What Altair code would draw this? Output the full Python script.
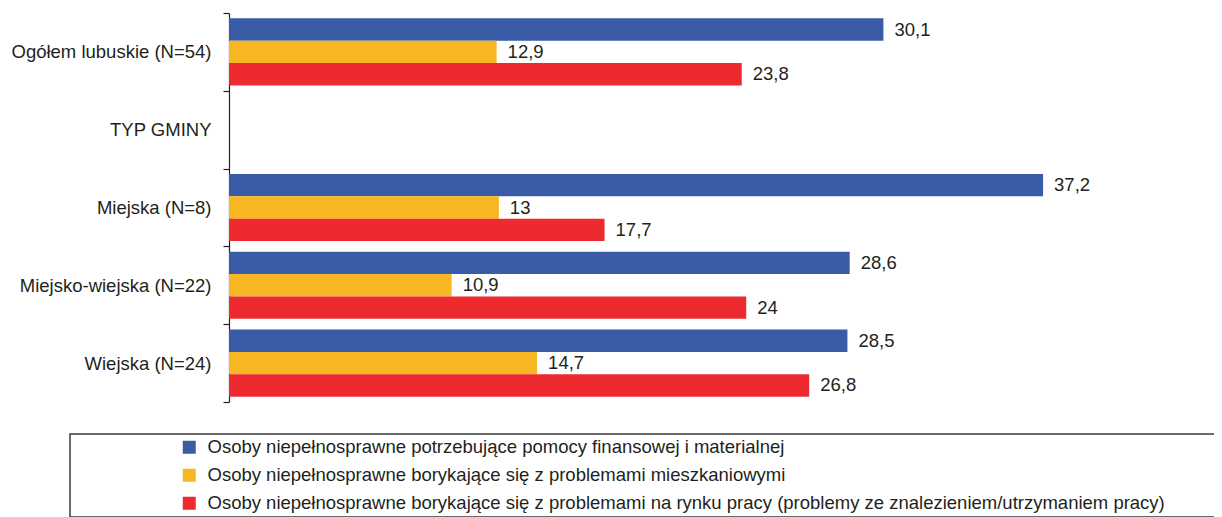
import altair as alt
import pandas as pd

# Categories on the vertical axis (TYP GMINY is a section header with no data)
categories = [
    "Ogółem lubuskie (N=54)",
    "TYP GMINY",
    "Miejska (N=8)",
    "Miejsko-wiejska (N=22)",
    "Wiejska (N=24)",
]
data_categories = [
    "Ogółem lubuskie (N=54)",
    "Miejska (N=8)",
    "Miejsko-wiejska (N=22)",
    "Wiejska (N=24)",
]

series = [
    "Osoby niepełnosprawne potrzebujące pomocy finansowej i materialnej",
    "Osoby niepełnosprawne borykające się z problemami mieszkaniowymi",
    "Osoby niepełnosprawne borykające się z problemami na rynku pracy (problemy ze znalezieniem/utrzymaniem pracy)",
]
colors = ["#3A5BA6", "#F8B622", "#EC2A2F"]

finansowa = [30.1, 37.2, 28.6, 28.5]
mieszkaniowe = [12.9, 13.0, 10.9, 14.7]
rynek_pracy = [23.8, 17.7, 24.0, 26.8]

rows = []
for s, vals in zip(series, [finansowa, mieszkaniowe, rynek_pracy]):
    for c, v in zip(data_categories, vals):
        rows.append({
            "kategoria": c,
            "seria": s,
            "wartosc": v,
            "etykieta": f"{v:g}".replace(".", ","),
        })
df = pd.DataFrame(rows)

FONT = "Liberation Sans"
TXT = "#231F20"
FS = 18.5

y_scale = alt.Scale(domain=categories, paddingInner=0, paddingOuter=0)
y_enc = alt.Y(
    "kategoria:N",
    scale=y_scale,
    axis=alt.Axis(
        title=None,
        tickBand="extent",
        tickSize=6,
        tickWidth=1.2,
        tickColor=TXT,
        domainColor=TXT,
        domainWidth=1.2,
        labelPadding=12,
        labelFont=FONT,
        labelFontSize=FS,
        labelColor=TXT,
        labelLimit=400,
        grid=False,
    ),
)
yoff_enc = alt.YOffset("seria:N", scale=alt.Scale(domain=series, paddingInner=0, paddingOuter=0.24))
x_enc = alt.X(
    "wartosc:Q",
    scale=alt.Scale(domain=[1, 44], clamp=True, nice=False, zero=False),
    axis=None,
)

# trailing non-breaking spaces widen the legend frame so its right edge runs off the page
pad = "\u00a0" * 9 + "\u200b"

bars = alt.Chart(df).mark_bar(opacity=1).encode(
    y=y_enc,
    yOffset=yoff_enc,
    x=x_enc,
    color=alt.Color(
        "seria:N",
        scale=alt.Scale(domain=series, range=colors),
        legend=alt.Legend(
            title=None,
            orient="none",
            legendX=-159,
            legendY=421,
            direction="vertical",
            strokeColor="#3a3a3a",
            padding=4,
            symbolOffset=106,
            symbolType="square",
            symbolSize=169,
            symbolStrokeWidth=0,
            symbolOpacity=1,
            labelFont=FONT,
            labelFontSize=FS,
            labelColor=TXT,
            labelOffset=9,
            labelLimit=1400,
            rowPadding=9,
            labelExpr="datum.label + '" + pad + "'",
        ),
    ),
)

labels = alt.Chart(df).mark_text(
    align="left", baseline="middle", dx=11, font=FONT, fontSize=FS, color=TXT
).encode(
    y=alt.Y("kategoria:N", scale=y_scale),
    yOffset=yoff_enc,
    x=x_enc,
    text="etykieta:N",
)

chart = (
    alt.layer(bars, labels)
    .properties(
        width=967,
        height=389,
        padding={"left": 221, "top": 5, "right": 18, "bottom": 115},
        autosize=alt.AutoSizeParams(type="none"),
        background="white",
    )
    .configure_view(stroke=None)
    .configure_legend(strokeWidth=1.5)
)

chart.save("out.html", embed_options={"renderer": "svg", "actions": False})
